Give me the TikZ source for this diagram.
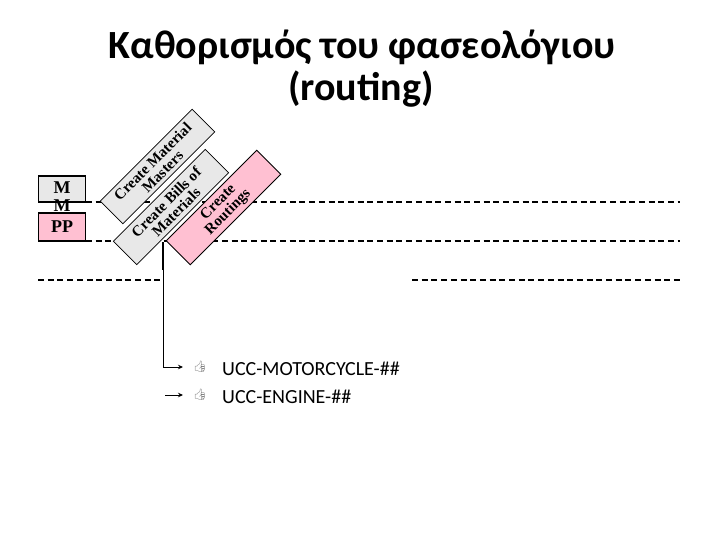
\documentclass[tikz,border=0pt]{standalone}
\usepackage{fontspec}
\setmainfont{Liberation Serif}
\newfontfamily\titlefont{Carlito}
\newfontfamily\emojifont{Noto Emoji}
\usetikzlibrary{arrows.meta}
\definecolor{boxgray}{RGB}{232,232,232}
\definecolor{boxpink}{RGB}{255,192,210}
\definecolor{icongray}{RGB}{120,120,120}
\begin{document}
\begin{tikzpicture}[x=1pt,y=-1pt,
  stepbox/.style={draw=black, line width=0.8pt, rotate=45, minimum width=130pt, minimum height=33pt, inner sep=0pt, align=center, font=\bfseries\fontsize{15}{14}\selectfont},
  modbox/.style={draw=black, line width=1.4pt, minimum width=47pt, inner sep=0pt},
  modtext/.style={font=\bfseries\fontsize{18}{18}\selectfont, inner sep=0pt},
  dashline/.style={line width=1.9pt, dash pattern=on 6pt off 3.7pt},
  titletext/.style={font=\titlefont\bfseries\fontsize{40}{44}\selectfont, anchor=base, inner sep=0pt},
  itemtext/.style={font=\titlefont\fontsize{20}{24}\selectfont, anchor=base west, inner sep=0pt},
  icon/.style={font=\emojifont\fontsize{11}{11}\selectfont, text=icongray, inner sep=0pt},
  arr/.style={-{Stealth[length=5pt,width=4.5pt]}, line width=1pt}]
\path[use as bounding box] (0,0) rectangle (720,540);

% title
\node[titletext] (t1) at (362,59) {Καθορισμός του φασεολόγιου};
\node[titletext] (t2) at (361,101) {(routing)};

% dashed swim-lane lines
\coordinate (d1a) at (86,202); \coordinate (d1b) at (680,202);
\coordinate (d2a) at (86,241); \coordinate (d2b) at (680,241);
\coordinate (d3a) at (38,280); \coordinate (d3b) at (163,280);
\coordinate (d4a) at (412,280); \coordinate (d4b) at (680,280);
\draw[dashline] (d1a) -- (d1b);
\draw[dashline] (d2a) -- (d2b);
\draw[dashline] (d3a) -- (d3b);
\draw[dashline] (d4a) -- (d4b);

% module boxes
\node[modbox, fill=boxgray, minimum height=26pt] (mm) at (62,189) {};
\node[modtext] (mmt1) at (62,188) {M};
\node[modtext] (mmt2) at (62,206) {M};
\node[modbox, fill=boxpink, minimum height=28pt] (pp) at (62,227) {};
\node[modtext] (ppt) at (62,227) {PP};

% process boxes
\node[stepbox, fill=boxgray, minimum height=32pt] (b1) at (157.5,166.5) {Create Material\\Masters};
\node[stepbox, fill=boxgray] (b2) at (171,207) {Create Bills of\\Materials};
\node[stepbox, fill=boxpink, minimum width=128pt, minimum height=34pt] (b3) at (223.5,207.5) {Create\\Routings};

% connectors
\coordinate (j) at (163,242);
\coordinate (j2) at (163,270);
\coordinate (c1) at (163,367);
\coordinate (e1) at (183,367);
\coordinate (s2) at (165,395);
\coordinate (e2) at (183,395);
\draw[line width=2pt] (j) -- (j2);
\draw[arr] (j2) -- (c1) -- (e1);
\draw[arr] (s2) -- (e2);

% list items
\node[icon] (i1) at (200,367) {👍};
\node[icon] (i2) at (200,395) {👍};
\node[itemtext] (l1) at (222,375) {UCC-MOTORCYCLE-\#\#};
\node[itemtext] (l2) at (222,403) {UCC-ENGINE-\#\#};
\end{tikzpicture}
\end{document}
